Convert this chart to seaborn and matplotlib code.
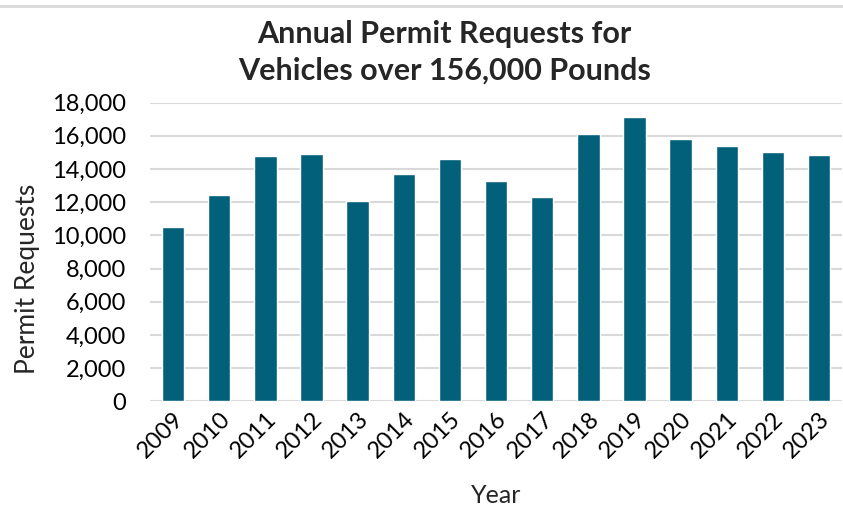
import seaborn as sns
import matplotlib.pyplot as plt
import matplotlib.lines as mlines
import matplotlib.ticker as mticker
import pandas as pd

sns.set_style("white")
plt.rcParams['font.family'] = ['Lato', 'DejaVu Sans']

years = ["2009", "2010", "2011", "2012", "2013", "2014", "2015", "2016",
         "2017", "2018", "2019", "2020", "2021", "2022", "2023"]
requests = [10500, 12460, 14770, 14900, 12060, 13670, 14600, 13300,
            12320, 16100, 17110, 15790, 15385, 15000, 14825]

data = pd.DataFrame({"Year": years, "Permit Requests": requests})

fig = plt.figure(figsize=(8.43, 5.08), dpi=100)
ax = fig.add_axes([0.178, 0.21, 0.821, 0.588])

sns.barplot(data=data, x="Year", y="Permit Requests", color="#03607A",
            width=0.485, saturation=1, ax=ax, zorder=3)

ax.set_ylim(0, 18000)
ax.yaxis.set_major_locator(mticker.MultipleLocator(2000))
ax.yaxis.set_major_formatter(mticker.FuncFormatter(lambda v, p: f"{int(v):,}"))
ax.grid(axis="y", color="#d9d9d9", linewidth=1.5, zorder=0)
for s in ax.spines.values():
    s.set_visible(False)
ax.tick_params(axis="both", length=0, labelsize=17, colors="black")
ax.tick_params(axis="y", pad=17)
ax.tick_params(axis="x", pad=5)
plt.setp(ax.get_xticklabels(), rotation=45, ha="right", rotation_mode="anchor")

ax.set_xlabel("Year", fontsize=18, labelpad=16)
ax.set_ylabel("Permit Requests", fontsize=19)
ax.yaxis.set_label_coords(-0.159, 0.41)

fig.text(0.527, 0.96, "Annual Permit Requests for\nVehicles over 156,000 Pounds",
         ha="center", va="top", fontsize=22, fontweight="bold", linespacing=1.35)

fig.add_artist(mlines.Line2D([0, 1], [0.988, 0.988], color="#d9d9d9", linewidth=2,
                             transform=fig.transFigure))

plt.savefig("out.png", dpi=100)
plt.close()
